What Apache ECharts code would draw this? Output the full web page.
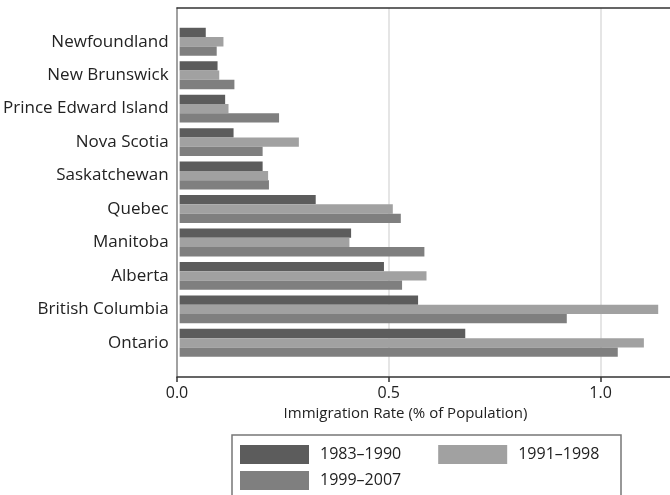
<!DOCTYPE html>
<html>
<head>
<meta charset="utf-8">
<script src="https://cdn.jsdelivr.net/npm/echarts@6/dist/echarts.min.js"></script>
<style>
html,body{margin:0;padding:0;background:#fff;}
#chart{width:670px;height:495px;}
</style>
</head>
<body>
<div id="chart"></div>
<script>
var provinces = ['Newfoundland','New Brunswick','Prince Edward Island','Nova Scotia','Saskatchewan','Quebec','Manitoba','Alberta','British Columbia','Ontario'];
var periods = ['1983\u20131990','1991\u20131998','1999\u20132007'];
var rate1983_1990 = [0.062,0.090,0.108,0.128,0.197,0.323,0.407,0.485,0.566,0.678];
var rate1991_1998 = [0.104,0.094,0.116,0.283,0.210,0.506,0.403,0.586,1.136,1.102];
var rate1999_2007 = [0.088,0.130,0.236,0.197,0.212,0.525,0.581,0.528,0.919,1.040];
var xTicks = [0, 0.5, 1.0];
var xMax = 1.164;

var FONT = '"Open Sans", sans-serif';
var colors = ['#5c5c5c','#a1a1a1','#7f7f7f'];
var chart = echarts.init(document.getElementById('chart'));
var seriesData = [rate1983_1990, rate1991_1998, rate1999_2007];

var legendBase = {
  padding: 0,
  itemWidth: 69, itemHeight: 19, itemGap: 37,
  icon: 'rect',
  textStyle: {color: '#222', fontSize: 16, fontFamily: FONT, padding: [0, 0, 0, 6]}
};

chart.setOption({
  animation: false,
  backgroundColor: '#fff',
  grid: [
    {left: 177, top: 8, right: 0, bottom: 118},
    {left: 177, top: 25, right: 0, bottom: 135.5}
  ],
  xAxis: [
    {
      type: 'value', gridIndex: 0, min: 0, max: xMax, interval: 0.5,
      axisLine: {show: true, lineStyle: {color: '#333', width: 1.5}},
      axisTick: {show: true, length: 5, customValues: xTicks, lineStyle: {color: '#333', width: 1.5}},
      axisLabel: {color: '#222', fontSize: 16, fontFamily: FONT, margin: 8, customValues: xTicks,
        formatter: function (v) { return xTicks.indexOf(v) >= 0 ? v.toFixed(1) : ''; }},
      splitLine: {show: true, lineStyle: {color: '#dcdcdc', width: 1.5}},
      name: 'Immigration Rate (% of Population)',
      nameLocation: 'middle', nameGap: 28,
      nameTextStyle: {color: '#222', fontSize: 15, fontFamily: FONT, padding: [0, 36, 0, 0]}
    },
    {
      type: 'value', gridIndex: 0, position: 'top', min: 0, max: xMax, interval: 0.5,
      axisLine: {show: true, lineStyle: {color: '#333', width: 1.5}},
      axisTick: {show: false}, axisLabel: {show: false}, splitLine: {show: false}
    },
    {
      type: 'value', gridIndex: 1, min: 0, max: xMax, show: false
    }
  ],
  yAxis: [
    {
      type: 'value', gridIndex: 0,
      axisLine: {show: true, lineStyle: {color: '#8a8a8a', width: 1.5}},
      axisTick: {show: false}, axisLabel: {show: false}, splitLine: {show: false}
    },
    {
      type: 'category', gridIndex: 1, inverse: true, data: provinces,
      axisLine: {show: false}, axisTick: {show: false},
      axisLabel: {color: '#222', fontSize: 17, fontFamily: FONT, margin: 11}
    }
  ],
  legend: [
    Object.assign({left: 240, top: 445, data: periods.slice(0, 2)}, legendBase),
    Object.assign({left: 240, top: 471, data: periods.slice(2)}, legendBase)
  ],
  graphic: [{
    type: 'rect', z: 100,
    shape: {x: 232, y: 435, width: 389, height: 90},
    style: {fill: 'none', stroke: '#777', lineWidth: 1.5}
  }],
  series: periods.map(function (p, i) {
    return {
      name: p, type: 'bar', xAxisIndex: 2, yAxisIndex: 1,
      data: seriesData[i], barWidth: 9.3, barGap: '0%',
      itemStyle: {color: colors[i]}
    };
  })
});
</script>
</body>
</html>
